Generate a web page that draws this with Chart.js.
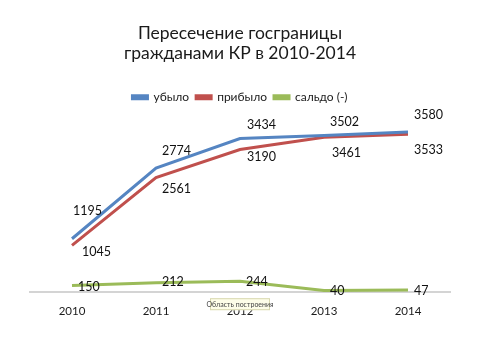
<!DOCTYPE html>
<html>
<head>
<meta charset="utf-8">
<script src="https://cdn.jsdelivr.net/npm/chart.js@4.4.0/dist/chart.umd.min.js"></script>
<style>
html,body{margin:0;padding:0;background:#fff;}
#wrap{width:480px;height:357px;position:relative;}
</style>
</head>
<body>
<div id="wrap"><canvas id="c" width="480" height="357"></canvas></div>
<script>
const categories = ['2010', '2011', '2012', '2013', '2014'];
const ubylo = [1195, 2774, 3434, 3502, 3580];
const pribylo = [1045, 2561, 3190, 3461, 3533];
const saldo = [150, 212, 244, 40, 47];
const seriesNames = ['убыло', 'прибыло', 'сальдо (-)'];
const titleLines = ['Пересечение госграницы', 'гражданами КР в 2010-2014'];

const FONT = 'Lato, "Open Sans", sans-serif';
const colors = ['#5585c2', '#c0504d', '#9bbb59'];
// label placement offsets (styling only, per series / per point)
const labelDy = [[-28, -17, -14, -14, -17], [7, 11, 7, 16, 16], [1, -1, 1, 1, 1]];
const labelDx = [[1, 6, 7, 6, 6], [10, 6, 7, 8, 6], [6, 6, 6, 6, 6]];

const labelPlugin = {
  id: 'valueLabels',
  afterDatasetsDraw(chart) {
    const ctx = chart.ctx;
    ctx.save();
    ctx.font = '12.5px ' + FONT;
    ctx.fillStyle = '#111';
    ctx.textAlign = 'left';
    ctx.textBaseline = 'middle';
    chart.data.datasets.forEach((ds, i) => {
      const meta = chart.getDatasetMeta(i);
      meta.data.forEach((pt, j) => {
        ctx.fillText(String(ds.data[j]), pt.x + labelDx[i][j], pt.y + labelDy[i][j]);
      });
    });
    ctx.restore();
  }
};

const tipPlugin = {
  id: 'tip',
  afterDraw(chart) {
    const ctx = chart.ctx;
    const xs = chart.scales.x;
    const cx = xs.getPixelForValue(2);
    const x0 = cx - 30, y0 = chart.chartArea.bottom + 6;
    ctx.save();
    ctx.fillStyle = '#fdfde8';
    ctx.strokeStyle = '#d8d8b0';
    ctx.lineWidth = 1;
    ctx.fillRect(x0, y0, 60, 12);
    ctx.strokeRect(x0 + 0.5, y0 + 0.5, 59, 11);
    ctx.fillStyle = '#444';
    ctx.font = '7px ' + FONT;
    ctx.textAlign = 'center';
    ctx.textBaseline = 'middle';
    ctx.fillText('Область построения', cx, y0 + 6.5);
    ctx.restore();
  }
};

new Chart(document.getElementById('c'), {
  type: 'line',
  data: {
    labels: categories,
    datasets: [
      { label: seriesNames[0], data: ubylo, borderColor: colors[0], backgroundColor: colors[0] },
      { label: seriesNames[1], data: pribylo, borderColor: colors[1], backgroundColor: colors[1] },
      { label: seriesNames[2], data: saldo, borderColor: colors[2], backgroundColor: colors[2] }
    ]
  },
  options: {
    responsive: false,
    animation: false,
    devicePixelRatio: 1,
    layout: { padding: { left: 30, right: 30, top: 0, bottom: 35 } },
    elements: {
      line: { borderWidth: 3, tension: 0 },
      point: { radius: 0, hoverRadius: 0 }
    },
    plugins: {
      title: {
        display: true,
        text: titleLines,
        font: { family: FONT, size: 17.5, weight: 'normal', lineHeight: 1.15 },
        color: '#1a1a1a',
        padding: { top: 23, bottom: 21 }
      },
      legend: {
        display: true,
        position: 'top',
        labels: {
          font: { family: FONT, size: 12 },
          color: '#1a1a1a',
          boxWidth: 15,
          boxHeight: 3,
          padding: 7
        }
      },
      tooltip: { enabled: false }
    },
    scales: {
      x: {
        offset: true,
        grid: { display: false },
        border: { display: true, color: '#d4d4d4', width: 2 },
        ticks: { font: { family: FONT, size: 11.5 }, color: '#1a1a1a', padding: 4 }
      },
      y: {
        display: false,
        min: 0,
        max: 4000
      }
    }
  },
  plugins: [labelPlugin, tipPlugin]
});
</script>
</body>
</html>
